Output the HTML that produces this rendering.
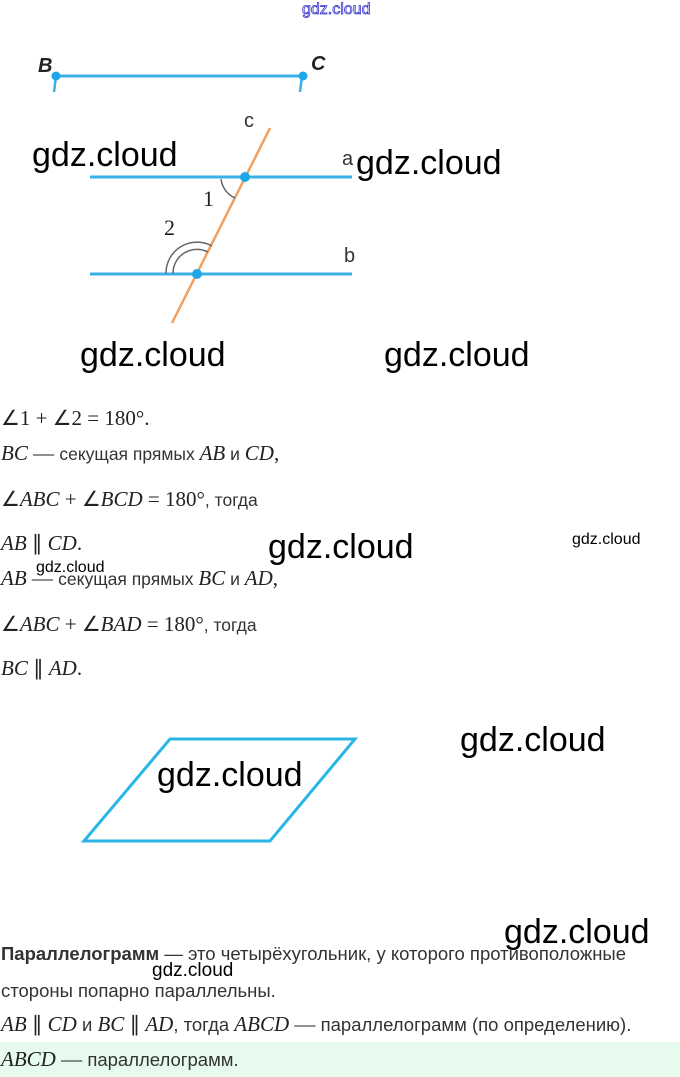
<!DOCTYPE html>
<html><head><meta charset="utf-8">
<style>
html,body{margin:0;padding:0;background:#fff;}
body{width:680px;height:1077px;position:relative;overflow:hidden;font-family:"Liberation Sans",sans-serif;color:#222;}
.a{position:absolute;white-space:nowrap;}
.wm{position:absolute;white-space:nowrap;font-family:"Liberation Sans",sans-serif;font-size:34px;color:#000;line-height:1;}
.ws{position:absolute;white-space:nowrap;font-family:"Liberation Sans",sans-serif;font-size:16px;color:#000;line-height:1;}
.m{font-family:"Liberation Serif",serif;font-size:21px;}
.i{font-style:italic;}
.t{font-size:17.5px;color:#333;}
.row{position:absolute;left:1px;white-space:nowrap;line-height:1;}
</style></head><body>
<svg width="680" height="1077" style="position:absolute;left:0;top:0">
  <line x1="56" y1="76" x2="303" y2="76" stroke="#3ab0e8" stroke-width="3"/>
  <line x1="56" y1="76" x2="54" y2="92" stroke="#3ab0e8" stroke-width="2.5"/>
  <line x1="302" y1="76" x2="300" y2="92" stroke="#3ab0e8" stroke-width="2.5"/>
  <circle cx="56" cy="76" r="4.5" fill="#1ea8e8"/>
  <circle cx="303" cy="76" r="4.5" fill="#1ea8e8"/>
  <line x1="90" y1="177" x2="352" y2="177" stroke="#3ab0e8" stroke-width="3"/>
  <line x1="90" y1="274" x2="352" y2="274" stroke="#3ab0e8" stroke-width="3"/>
  <line x1="270" y1="128" x2="172" y2="323" stroke="#f0a060" stroke-width="2.5"/>
  <path d="M221 179 A24 24 0 0 0 235 198" fill="none" stroke="#555" stroke-width="1.3"/>
  <path d="M173 274 A24 24 0 0 1 208 252" fill="none" stroke="#666" stroke-width="1.5"/>
  <path d="M166 274 A31 31 0 0 1 212 246" fill="none" stroke="#666" stroke-width="1.5"/>
  <circle cx="245" cy="177" r="5" fill="#1ea8e8"/>
  <circle cx="197" cy="274" r="5" fill="#1ea8e8"/>
  <polygon points="170,739 355,739 270,841 84,841" fill="none" stroke="#29b6e6" stroke-width="3"/>
  <rect x="0" y="1042" width="680" height="35" fill="#e6fbee"/>
</svg>

<div class="a" style="left:38px;top:55px;font:italic bold 20px 'Liberation Sans',sans-serif;color:#222">B</div>
<div class="a" style="left:311px;top:53px;font:italic bold 20px 'Liberation Sans',sans-serif;color:#222">C</div>
<div class="a" style="left:244px;top:110px;font-size:20px;color:#333">c</div>
<div class="a" style="left:342px;top:148px;font-size:20px;color:#333">a</div>
<div class="a" style="left:344px;top:245px;font-size:20px;color:#333">b</div>
<div class="a" style="left:203px;top:186px;font:22px 'Liberation Serif',serif;color:#222">1</div>
<div class="a" style="left:164px;top:215px;font:22px 'Liberation Serif',serif;color:#222">2</div>

<div class="a" style="left:302px;top:1px;font-size:16px;color:#fff;-webkit-text-stroke:0.8px #3333cc;">gdz.cloud</div>

<div class="row" style="top:408px"><span class="m">∠1 + ∠2 = 180°.</span></div>
<div class="row" style="top:443px"><span class="m i">BC</span><span class="m"> — </span><span class="t">секущая прямых </span><span class="m i">AB</span><span class="t"> и </span><span class="m i">CD</span><span class="m">,</span></div>
<div class="row" style="top:489px"><span class="m">∠<i>ABC</i> + ∠<i>BCD</i> = 180°</span><span class="t">, тогда</span></div>
<div class="row" style="top:533px"><span class="m"><i>AB</i> ∥ <i>CD</i>.</span></div>
<div class="row" style="top:568px"><span class="m i">AB</span><span class="m"> — </span><span class="t">секущая прямых </span><span class="m i">BC</span><span class="t"> и </span><span class="m i">AD</span><span class="m">,</span></div>
<div class="row" style="top:614px"><span class="m">∠<i>ABC</i> + ∠<i>BAD</i> = 180°</span><span class="t">, тогда</span></div>
<div class="row" style="top:658px"><span class="m"><i>BC</i> ∥ <i>AD</i>.</span></div>

<div class="row t" style="top:945px;font-size:18.5px"><b>Параллелограмм</b> — это четырёхугольник, у которого противоположные</div>
<div class="row t" style="top:982px;font-size:18.5px">стороны попарно параллельны.</div>
<div class="row" style="top:1014px"><span class="m"><i>AB</i> ∥ <i>CD</i></span><span class="t" style="font-size:18.5px"> и </span><span class="m"><i>BC</i> ∥ <i>AD</i></span><span class="t" style="font-size:18.5px">, тогда </span><span class="m i">ABCD</span><span class="m"> — </span><span class="t" style="font-size:18.5px">параллелограмм (по определению).</span></div>
<div class="row" style="top:1049px"><span class="m i">ABCD</span><span class="m"> — </span><span class="t" style="font-size:18.5px">параллелограмм.</span></div>

<div class="wm" style="left:32px;top:138px">gdz.cloud</div>
<div class="wm" style="left:356px;top:146px">gdz.cloud</div>
<div class="wm" style="left:80px;top:338px">gdz.cloud</div>
<div class="wm" style="left:384px;top:338px">gdz.cloud</div>
<div class="wm" style="left:268px;top:530px">gdz.cloud</div>
<div class="wm" style="left:460px;top:723px">gdz.cloud</div>
<div class="wm" style="left:157px;top:758px">gdz.cloud</div>
<div class="wm" style="left:504px;top:915px">gdz.cloud</div>
<div class="ws" style="left:572px;top:532px">gdz.cloud</div>
<div class="ws" style="left:36px;top:560px">gdz.cloud</div>
<div class="ws" style="left:152px;top:961px;font-size:19px">gdz.cloud</div>
</body></html>
